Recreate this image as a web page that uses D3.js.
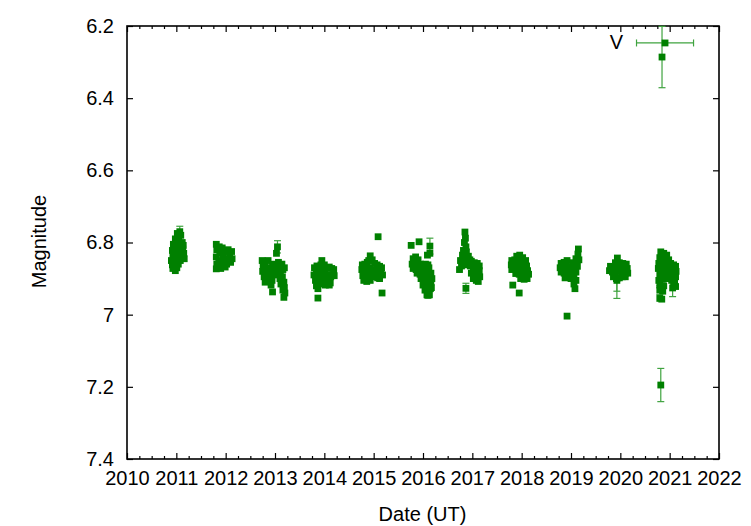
<!DOCTYPE html>
<html>
<head>
<meta charset="utf-8">
<script src="https://cdn.jsdelivr.net/npm/d3@7"></script>
<style>
  html, body { margin: 0; padding: 0; background: #fff; }
  svg { display: block; }
  text { font-family: "Liberation Sans", Arial, Helvetica, sans-serif; font-size: 20px; fill: #000; }
</style>
</head>
<body>
<svg id="chart" width="751" height="526"></svg>
<script>
// ---- data: [year, magnitude, magError?] ----
const season2011 = [[2011.07,6.770,0.015],[2011.02,6.775],[2011.09,6.780],[2010.98,6.790],[2011.05,6.792],[2011.12,6.800],[2010.94,6.805],[2011.00,6.810],[2011.08,6.812],[2011.13,6.818],[2010.92,6.822],[2010.97,6.828],[2011.03,6.826],[2011.10,6.834],[2010.93,6.838],[2011.00,6.842],[2011.06,6.845],[2010.95,6.852],[2011.02,6.856],[2011.08,6.850],[2010.92,6.862],[2010.99,6.866],[2011.04,6.860],[2010.93,6.872],[2010.98,6.878],[2011.01,6.870],[2011.11,6.825],[2011.14,6.808],[2010.96,6.815],[2011.15,6.830],[2011.16,6.845],[2010.90,6.850]];
const season2012 = [[2011.81,6.805],[2011.82,6.820],[2011.81,6.840],[2011.82,6.860],[2011.81,6.873],[2011.87,6.812],[2011.88,6.830],[2011.86,6.850],[2011.89,6.865],[2011.93,6.815],[2011.95,6.835],[2011.92,6.855],[2011.97,6.845],[2012.00,6.825],[2012.02,6.860],[2012.05,6.820],[2012.08,6.835],[2012.12,6.825],[2012.13,6.845],[2012.10,6.855],[2012.05,6.850],[2011.99,6.868],[2011.90,6.872]];
const season2013 = [[2013.05,6.812,0.017],[2013.03,6.830],[2012.74,6.850],[2012.76,6.865],[2012.75,6.880],[2012.78,6.895],[2012.80,6.860],[2012.82,6.875],[2012.84,6.890],[2012.86,6.850],[2012.88,6.870],[2012.90,6.885],[2012.92,6.900],[2012.95,6.860],[2012.97,6.875],[2012.99,6.890],[2012.94,6.905],[2013.02,6.865],[2013.05,6.880],[2013.07,6.855],[2013.09,6.870],[2013.11,6.885],[2013.14,6.860],[2013.16,6.875],[2013.19,6.870],[2013.15,6.895],[2013.18,6.910],[2013.19,6.925],[2013.20,6.940],[2013.18,6.952],[2012.95,6.937],[2013.10,6.900],[2012.80,6.910],[2012.86,6.905],[2012.92,6.918],[2013.12,6.915],[2013.16,6.932]];
const season2014 = [[2013.95,6.850],[2013.93,6.862],[2014.00,6.862],[2013.80,6.870],[2013.85,6.865],[2013.90,6.875],[2013.97,6.878],[2014.05,6.870],[2014.10,6.868],[2014.15,6.872],[2014.19,6.875],[2013.79,6.890],[2013.84,6.885],[2013.89,6.895],[2013.94,6.890],[2014.02,6.888],[2014.08,6.890],[2014.13,6.895],[2014.18,6.890],[2013.82,6.905],[2013.88,6.910],[2013.99,6.905],[2014.06,6.905],[2014.12,6.912],[2013.84,6.920],[2013.87,6.928],[2013.93,6.915],[2013.87,6.954],[2014.20,6.892],[2014.02,6.918],[2014.10,6.918]];
const season2015 = [[2014.93,6.837],[2014.90,6.850],[2014.97,6.848],[2014.77,6.862],[2014.82,6.860],[2014.87,6.855],[2015.02,6.858],[2015.07,6.862],[2015.12,6.866],[2015.16,6.870],[2014.76,6.875],[2014.80,6.880],[2014.86,6.872],[2014.92,6.870],[2014.98,6.875],[2015.04,6.878],[2015.10,6.882],[2015.15,6.885],[2014.78,6.892],[2014.84,6.895],[2014.90,6.888],[2014.96,6.892],[2015.02,6.895],[2015.08,6.898],[2014.86,6.908],[2014.93,6.905],[2015.09,6.784],[2015.17,6.940],[2015.12,6.900],[2015.18,6.890],[2014.80,6.905]];
const season2016 = [[2015.76,6.808],[2015.92,6.798],[2016.14,6.810,0.022],[2016.14,6.830],[2016.09,6.835],[2015.80,6.845],[2015.85,6.840],[2015.90,6.848],[2015.78,6.860],[2015.83,6.858],[2015.88,6.862],[2015.95,6.860],[2015.80,6.872],[2015.86,6.875],[2015.92,6.872],[2015.98,6.870],[2016.03,6.866],[2015.88,6.885],[2015.94,6.888],[2016.00,6.884],[2016.06,6.880],[2015.96,6.900],[2016.02,6.905],[2016.08,6.900],[2016.13,6.895],[2016.00,6.918],[2016.06,6.920],[2016.11,6.915],[2016.16,6.910],[2016.04,6.932],[2016.10,6.935,0.020],[2016.15,6.928],[2016.08,6.945],[2016.12,6.870],[2016.16,6.885],[2016.18,6.900],[2016.12,6.890],[2016.05,6.860],[2016.10,6.862],[2016.17,6.925],[2016.13,6.945]];
const season2017 = [[2016.85,6.771],[2016.86,6.788],[2016.84,6.800],[2016.87,6.812],[2016.82,6.822],[2016.88,6.826],[2016.80,6.835],[2016.86,6.840],[2016.92,6.838],[2016.76,6.850],[2016.82,6.855],[2016.88,6.850],[2016.95,6.848],[2016.78,6.865],[2016.74,6.875],[2016.84,6.862],[2016.98,6.852],[2017.04,6.856],[2017.10,6.858],[2017.14,6.865],[2016.96,6.865],[2017.02,6.870],[2017.08,6.872],[2017.14,6.878],[2016.98,6.885],[2017.04,6.888],[2017.10,6.890],[2017.15,6.895],[2017.02,6.900],[2017.08,6.905],[2017.12,6.908],[2016.87,6.927,0.014]];
const season2018 = [[2017.90,6.838],[2017.96,6.835],[2018.02,6.842],[2017.80,6.850],[2017.86,6.848],[2018.08,6.850],[2017.79,6.862],[2017.85,6.860],[2017.92,6.855],[2017.98,6.858],[2018.04,6.860],[2018.10,6.865],[2017.80,6.875],[2017.86,6.872],[2017.92,6.870],[2017.98,6.875],[2018.05,6.872],[2018.12,6.878],[2017.88,6.886],[2017.95,6.888],[2018.02,6.885],[2018.09,6.890],[2018.14,6.888],[2017.98,6.900],[2018.05,6.902],[2018.11,6.900],[2017.82,6.918],[2017.95,6.940]];
const season2019 = [[2019.15,6.818],[2019.14,6.832],[2019.10,6.845],[2019.16,6.848],[2018.92,6.850],[2018.80,6.858],[2018.86,6.855],[2019.04,6.856],[2018.78,6.870],[2018.84,6.868],[2018.90,6.865],[2018.96,6.870],[2019.02,6.868],[2019.08,6.862],[2019.13,6.866],[2018.80,6.882],[2018.86,6.885],[2018.92,6.880],[2018.98,6.885],[2019.04,6.880],[2019.10,6.882],[2018.88,6.898],[2018.94,6.895],[2019.00,6.900],[2019.06,6.895],[2019.10,6.905],[2019.06,6.915],[2019.08,6.928],[2018.92,7.004]];
const season2020 = [[2019.94,6.843],[2019.90,6.856],[2019.98,6.856],[2020.05,6.858],[2020.12,6.860],[2019.80,6.866],[2019.86,6.868],[2019.93,6.870],[2020.00,6.866],[2020.07,6.868],[2020.14,6.872],[2019.78,6.878],[2019.84,6.882],[2019.90,6.885],[2019.97,6.880],[2020.04,6.882],[2020.10,6.885],[2020.15,6.885],[2019.86,6.895],[2019.92,6.900],[2019.98,6.898],[2020.04,6.895],[2020.10,6.895],[2019.93,6.905,0.050],[2019.93,6.900,0.035]];
const season2021 = [[2020.82,6.826],[2020.88,6.830],[2020.94,6.835],[2020.80,6.842],[2020.86,6.845],[2020.92,6.850],[2020.98,6.848],[2020.78,6.858],[2020.84,6.855],[2020.90,6.860],[2020.96,6.862],[2021.02,6.858],[2021.08,6.862],[2021.12,6.866],[2020.77,6.872],[2020.83,6.870],[2020.89,6.875],[2020.95,6.878],[2021.01,6.872],[2021.07,6.876],[2021.13,6.880],[2020.80,6.888],[2020.86,6.890],[2020.92,6.886],[2021.00,6.890],[2021.06,6.892],[2021.12,6.895],[2020.78,6.905],[2020.85,6.902],[2020.96,6.900],[2021.04,6.905],[2021.10,6.910],[2020.80,6.918],[2020.88,6.920],[2021.08,6.918],[2021.12,6.922],[2020.80,6.932,0.012],[2020.86,6.935],[2021.06,6.926,0.024],[2020.84,6.957],[2020.80,6.955],[2020.82,7.195,0.046]];
// bright outliers: [year, magnitude, magError, yearError]
const brightPoints = [[2020.906,6.247,0,0.578],[2020.845,6.286,0.085,0]];

const xTickYears = [2010,2011,2012,2013,2014,2015,2016,2017,2018,2019,2020,2021,2022];
const yTickMags = [6.2,6.4,6.6,6.8,7.0,7.2,7.4];
const bandLabel = "V";
const xTitle = "Date (UT)";
const yTitle = "Magnitude";

// ---- drawing ----
const svg = d3.select("#chart");
const L = 127, R = 719, T = 26, B = 459;
const x = d3.scaleLinear().domain([2010, 2022]).range([L, R]);
const y = d3.scaleLinear().domain([6.2, 7.4]).range([T, B]);

const minorX = d3.range(2010, 2022.001, 0.25).filter(v => Math.abs(v - Math.round(v)) > 1e-6);

// bottom axis
const gB = svg.append("g").attr("transform", `translate(0,${B})`);
gB.call(d3.axisBottom(x).tickValues(minorX).tickSize(-3).tickFormat(""));
gB.append("g").call(d3.axisBottom(x).tickValues(xTickYears).tickSize(-6).tickPadding(12).tickFormat(d3.format("d")));
// top axis
const gT = svg.append("g").attr("transform", `translate(0,${T})`);
gT.call(d3.axisTop(x).tickValues(minorX).tickSize(-3).tickFormat(""));
gT.append("g").call(d3.axisTop(x).tickValues(xTickYears).tickSize(-6).tickFormat(""));
// left axis
const gL = svg.append("g").attr("transform", `translate(${L},0)`);
gL.call(d3.axisLeft(y).tickValues(yTickMags).tickSize(-6).tickPadding(13).tickFormat(d => String(+d.toFixed(1))));
// right axis
const gR = svg.append("g").attr("transform", `translate(${R},0)`);
gR.call(d3.axisRight(y).tickValues(yTickMags).tickSize(-6).tickFormat(""));

svg.selectAll(".domain").remove();
svg.selectAll(".tick line").attr("stroke", "#000").attr("stroke-width", 1.2);
svg.selectAll(".tick text").attr("fill", "#000").style("font-size", "20px")
   .style("font-family", '"Liberation Sans", Arial, Helvetica, sans-serif');

// frame
svg.append("rect").attr("x", L).attr("y", T).attr("width", R - L).attr("height", B - T)
   .attr("fill", "none").attr("stroke", "#000").attr("stroke-width", 1.6);

// data
const seasons = [season2011, season2012, season2013, season2014, season2015, season2016,
                 season2017, season2018, season2019, season2020, season2021];
const pts = seasons.flat().map(d => ({yr: d[0], mag: d[1], err: d[2] || 0, xerr: 0}))
  .concat(brightPoints.map(d => ({yr: d[0], mag: d[1], err: d[2], xerr: d[3]})));

const plot = svg.append("g");
const errColor = "#3fa33f";
const cap = 3.5;
const clampY = v => Math.max(T, Math.min(B, v));

pts.filter(d => d.err > 0).forEach(d => {
  const cx = x(d.yr), y1 = clampY(y(d.mag - d.err)), y2 = clampY(y(d.mag + d.err));
  plot.append("line").attr("x1", cx).attr("x2", cx).attr("y1", y1).attr("y2", y2)
      .attr("stroke", errColor).attr("stroke-width", 1.2);
  [y1, y2].forEach(yy => plot.append("line").attr("x1", cx - cap).attr("x2", cx + cap)
      .attr("y1", yy).attr("y2", yy).attr("stroke", errColor).attr("stroke-width", 1.2));
});
pts.filter(d => d.xerr > 0).forEach(d => {
  const cy = y(d.mag), x1 = x(d.yr - d.xerr), x2 = x(d.yr + d.xerr);
  plot.append("line").attr("x1", x1).attr("x2", x2).attr("y1", cy).attr("y2", cy)
      .attr("stroke", errColor).attr("stroke-width", 1.2);
  [x1, x2].forEach(xx => plot.append("line").attr("x1", xx).attr("x2", xx)
      .attr("y1", cy - cap).attr("y2", cy + cap).attr("stroke", errColor).attr("stroke-width", 1.2));
});

const S = 6.8;
plot.selectAll("rect.pt").data(pts).enter().append("rect").attr("class", "pt")
  .attr("x", d => x(d.yr) - S / 2).attr("y", d => y(d.mag) - S / 2)
  .attr("width", S).attr("height", S).attr("fill", "#008000");

// labels
svg.append("text").attr("x", 623).attr("y", 49).attr("text-anchor", "end").text(bandLabel);
svg.append("text").attr("x", 422.5).attr("y", 521).attr("text-anchor", "middle").text(xTitle);
svg.append("text").attr("transform", "translate(46,241.5) rotate(-90)").attr("text-anchor", "middle").text(yTitle);
</script>
</body>
</html>
